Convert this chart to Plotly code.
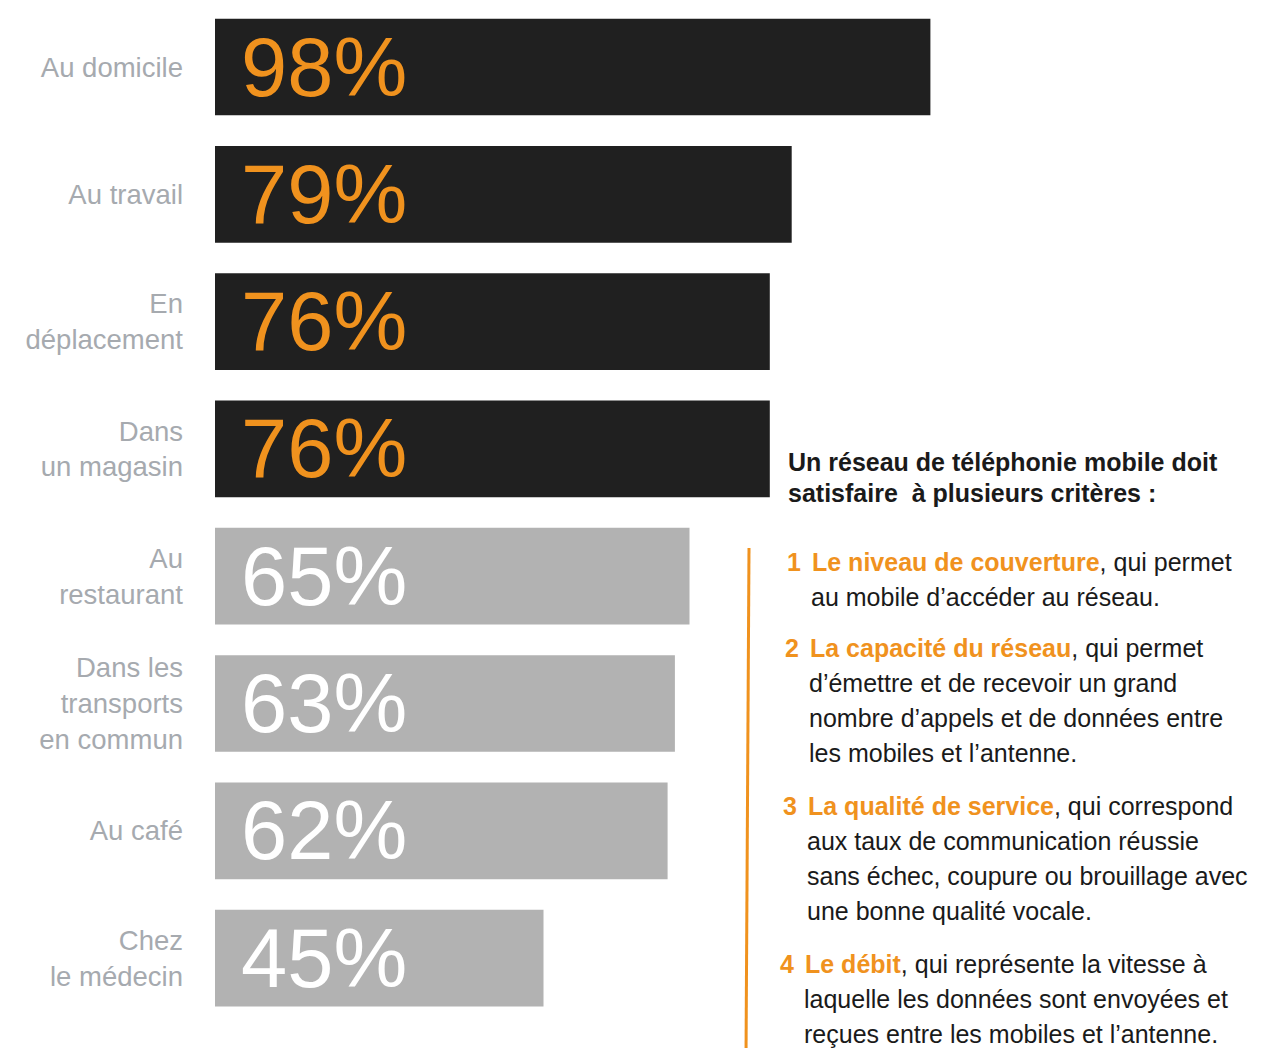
import plotly.graph_objects as go

# ---- data ----
categories = ["Au domicile", "Au travail", "En<br>déplacement", "Dans<br>un magasin",
              "Au<br>restaurant", "Dans les<br>transports<br>en commun", "Au café",
              "Chez<br>le médecin"]
values = [98, 79, 76, 76, 65, 63, 62, 45]

title_lines = ["Un réseau de téléphonie mobile doit", "satisfaire  à plusieurs critères :"]
criteria_numbers = ["1", "2", "3", "4"]
criteria_titles = ["Le niveau de couverture", "La capacité du réseau",
                   "La qualité de service", "Le débit"]
criteria_first = [", qui permet", ", qui permet", ", qui correspond",
                  ", qui représente la vitesse à"]
criteria_rest = [
    ["au mobile d’accéder au réseau."],
    ["d’émettre et de recevoir un grand", "nombre d’appels et de données entre",
     "les mobiles et l’antenne."],
    ["aux taux de communication réussie", "sans échec, coupure ou brouillage avec",
     "une bonne qualité vocale."],
    ["laquelle les données sont envoyées et", "reçues entre les mobiles et l’antenne."],
]

# ---- styles ----
ORANGE = "#f0921e"
DARK = "#202020"
GREY = "#b2b2b2"
bar_colors = [DARK] * 4 + [GREY] * 4
text_colors = [ORANGE] * 4 + ["#ffffff"] * 4

W, H = 1264, 1048
OFF = 8  # page body margin
ML, MR, MT, MB = 207, 2, 0, 0
PW, PH = W - ML - MR, H - MT - MB


def px(sx):
    return (sx - OFF - ML) / PW


def py(sy):
    return (H - MB - (sy - OFF)) / PH


# y range so that band pitch ~127 px and first band centre at screen y 67
pitch = 127.3
first_c = 67 - OFF
y_top = -first_c / pitch
y_bot = y_top + PH / pitch

fig = go.Figure(go.Bar(
    y=categories, x=values, orientation="h",
    marker=dict(color=bar_colors, line=dict(width=0)),
    texttemplate="\u00a0%{x}%", textposition="inside", insidetextanchor="start",
    constraintext="none",
    textfont=dict(family="Liberation Sans, Arial, sans-serif", size=83, color=text_colors),
    hoverinfo="skip",
))

fig.update_layout(
    width=W, height=H, margin=dict(l=ML, r=MR, t=MT, b=MB),
    paper_bgcolor="white", plot_bgcolor="white", showlegend=False,
    bargap=0.24,
    font=dict(family="Liberation Sans, Arial, sans-serif"),
    xaxis=dict(visible=False, range=[0, PW / 7.3]),
    yaxis=dict(range=[y_bot, y_top], showgrid=False, showline=False, zeroline=False,
               ticks="", ticklabelstandoff=31,
               tickfont=dict(family="Liberation Sans, Arial, sans-serif", size=27.5,
                             color="#a6aaaf")),
)

ann = []
FONT = dict(family="Liberation Sans, Arial, sans-serif", size=25, color="#1a1a1a")
for i, t in enumerate(title_lines):
    ann.append(dict(xref="paper", yref="paper", x=px(786), y=py(462 + 31 * i),
                    xanchor="left", yanchor="middle", showarrow=False,
                    text=f"<b>{t}</b>", font=FONT))

item_y = [562, 648, 806, 964]
num_x = [785, 783, 781, 778]
for k in range(4):
    y0 = item_y[k]
    ann.append(dict(xref="paper", yref="paper", x=px(num_x[k]), y=py(y0),
                    xanchor="left", yanchor="middle", showarrow=False,
                    text=f"<b><span style='color:{ORANGE}'>{criteria_numbers[k]}</span></b>",
                    font=FONT))
    tx = num_x[k] + 25
    ann.append(dict(xref="paper", yref="paper", x=px(tx), y=py(y0),
                    xanchor="left", yanchor="middle", showarrow=False,
                    text=f"<b><span style='color:{ORANGE}'>{criteria_titles[k]}</span></b>{criteria_first[k]}",
                    font=FONT))
    for j, line in enumerate(criteria_rest[k]):
        ann.append(dict(xref="paper", yref="paper", x=px(tx - 1), y=py(y0 + 35 * (j + 1)),
                        xanchor="left", yanchor="middle", showarrow=False,
                        text=line, font=FONT))

fig.update_layout(annotations=ann)
fig.add_shape(type="line", xref="paper", yref="paper",
              x0=px(749), x1=px(746), y0=py(548), y1=py(1056),
              line=dict(color=ORANGE, width=3))

fig.write_html("out.html")
